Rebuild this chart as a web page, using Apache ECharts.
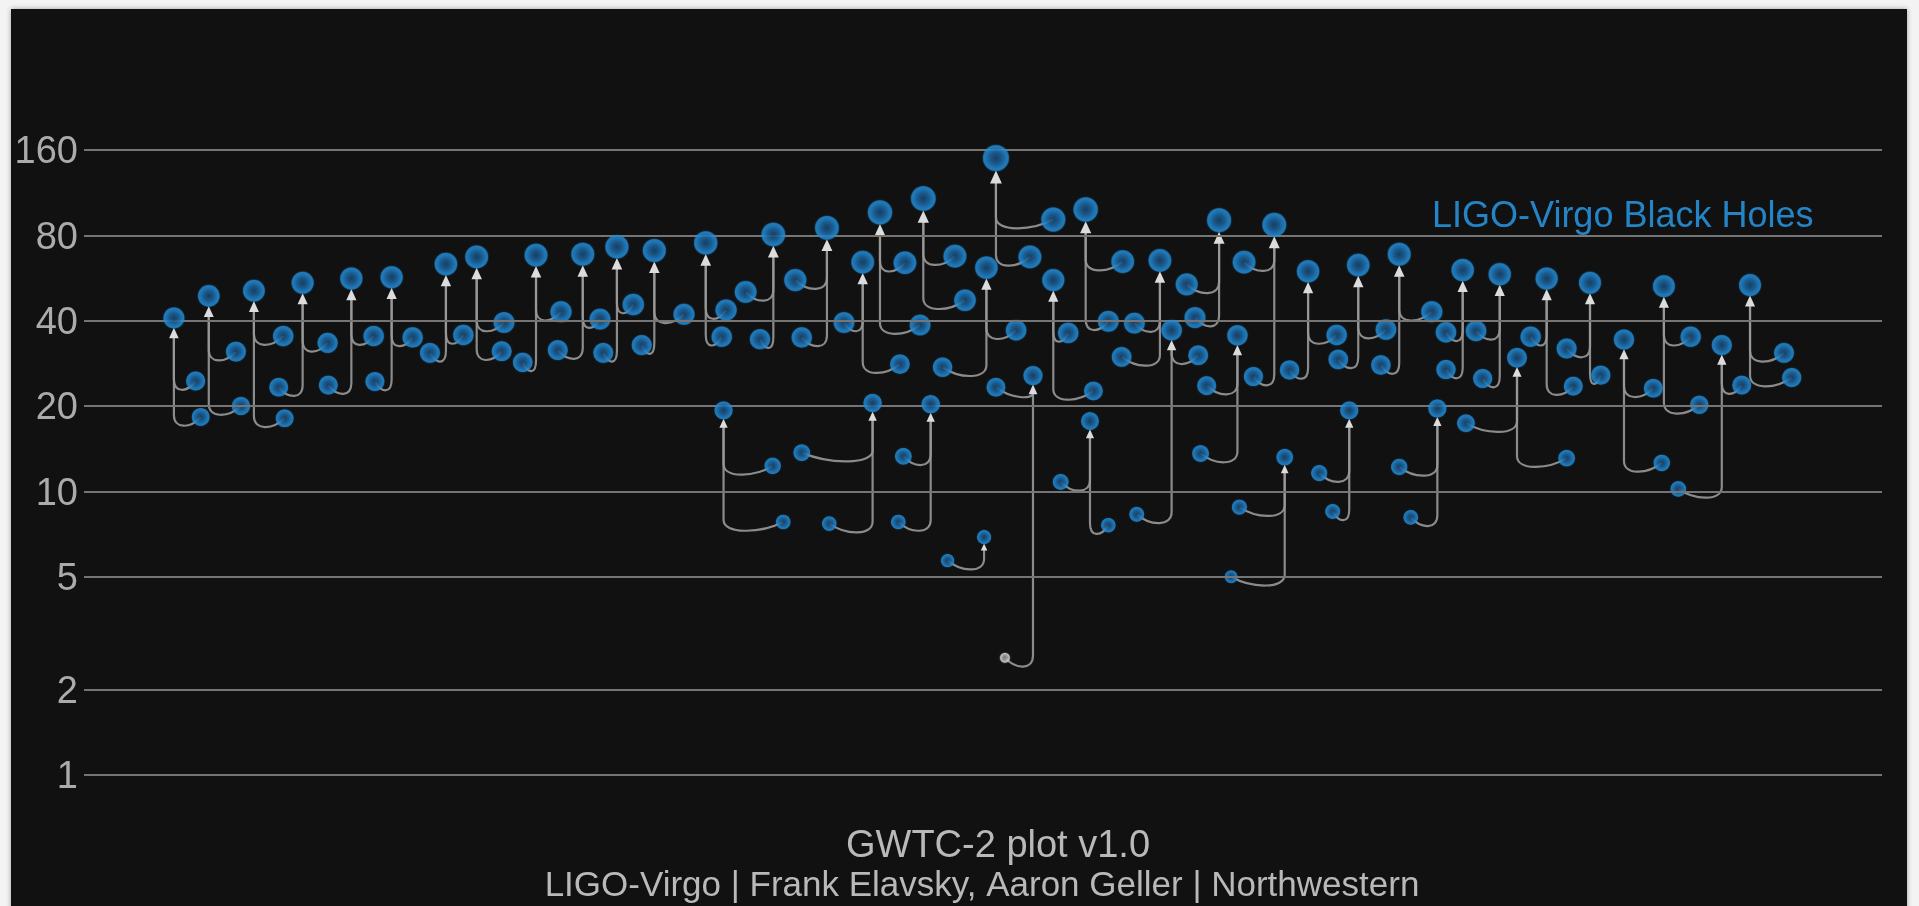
<!DOCTYPE html>
<html>
<head>
<meta charset="utf-8">
<title>GWTC-2 plot v1.0</title>
<script src="https://cdn.jsdelivr.net/npm/echarts@6/dist/echarts.min.js"></script>
<style>
  html, body { margin: 0; padding: 0; width: 100%; height: 100%; background: #f3f3f3; overflow: hidden; }
  #panel { position: absolute; left: 11px; top: 9px; width: 1896px; height: 910px; background: #111111;
           box-shadow: 0 0 5px rgba(0,0,0,0.35); }
  #chart { position: absolute; left: 0; top: 0; width: 1919px; height: 906px; }
</style>
</head>
<body>
<div id="panel"></div>
<div id="chart"></div>
<script>
// Mass axis ticks (solar masses)
const tickValues = [1, 2, 5, 10, 20, 40, 80, 160];

// Each merger: remnant (final black hole) and its two progenitors.
// X is a layout position (0-100) across the panel, masses in solar masses.
const remnantX = [5.0, 6.94, 9.45, 12.16, 14.87, 17.11, 20.13, 21.84, 25.14, 27.74, 29.64, 31.72, 34.58, 38.34, 41.32, 44.27, 43.31, 46.68, 50.19, 52.78, 50.06, 35.57, 43.86, 47.09, 50.72, 55.71, 53.91, 55.95, 59.84, 60.49, 63.13, 64.15, 66.20, 68.08, 66.78, 70.87, 73.15, 70.37, 75.27, 76.68, 78.74, 81.35, 79.70, 83.76, 85.65, 87.87, 91.09, 92.66];
const remnantMass = [40.9, 48.9, 51.0, 54.4, 56.3, 56.9, 63.3, 67.1, 68.1, 68.6, 72.8, 70.7, 75.2, 80.5, 85.0, 96.3, 64.3, 107.8, 61.5, 25.6, 6.9, 19.3, 20.5, 20.3, 149.7, 98.6, 55.6, 17.7, 65.2, 37.0, 90.4, 35.5, 87.1, 59.7, 13.2, 62.8, 68.6, 19.3, 19.6, 60.3, 58.3, 56.3, 29.6, 54.4, 34.3, 52.9, 32.8, 53.4];
const primaryX = [6.21, 8.45, 11.08, 13.55, 16.11, 18.28, 21.10, 23.36, 26.53, 28.70, 30.55, 33.37, 35.71, 36.80, 39.56, 45.66, 42.27, 48.44, 51.84, 50.72, 48.03, 38.30, 39.92, 45.57, 53.91, 57.77, 54.74, 54.32, 58.42, 61.97, 61.33, 62.44, 64.52, 69.67, 64.26, 72.41, 74.96, 68.70, 73.15, 75.75, 77.42, 80.46, 76.86, 82.46, 87.28, 89.36, 92.20, 94.55];
const primaryMass = [24.5, 31.1, 35.3, 33.4, 35.3, 34.9, 35.6, 39.4, 43.0, 40.5, 45.6, 42.1, 43.6, 50.5, 55.6, 64.0, 39.4, 67.5, 37.0, 23.3, 5.7, 12.3, 13.7, 13.3, 90.9, 64.6, 36.2, 10.8, 39.2, 30.2, 53.7, 23.6, 64.3, 35.6, 8.8, 37.2, 43.0, 11.6, 12.2, 36.4, 36.8, 35.1, 17.4, 31.9, 23.1, 35.1, 23.7, 30.8];
const secondaryX = [6.49, 8.73, 11.16, 10.83, 13.59, 16.18, 19.24, 23.23, 24.40, 26.35, 28.88, 31.02, 35.47, 37.60, 39.92, 46.50, 45.38, 49.00, 47.75, 51.22, null, 38.89, 41.45, 45.29, 52.61, 56.97, 56.14, 56.97, 57.71, 58.55, 61.79, 62.10, 65.04, 67.05, 63.80, 69.76, 72.13, 69.45, 73.79, 75.75, 77.79, 82.83, 82.46, 84.36, 87.75, 89.84, 88.67, 94.98];
const secondaryMass = [18.3, 20.0, 18.1, 23.3, 23.7, 24.4, 30.8, 31.2, 28.5, 31.5, 30.8, 32.8, 35.1, 34.4, 34.9, 38.6, 28.1, 47.2, 27.4, 2.59, null, 7.8, 7.7, 7.8, 67.1, 39.8, 22.6, 7.6, 29.8, 8.3, 41.0, 13.6, 25.4, 26.8, 5.0, 29.2, 27.9, 8.5, 8.1, 26.9, 25.0, 23.5, 13.1, 25.7, 12.6, 20.2, 10.2, 25.2];

const chartTitle = 'LIGO-Virgo Black Holes';
const footerLines = ['GWTC-2 plot v1.0', 'LIGO-Virgo | Frank Elavsky, Aaron Geller | Northwestern'];

const FONT = '"Liberation Sans", Arial, Helvetica, sans-serif';
// Objects lighter than this are drawn grey instead of blue
const GAP_LIMIT = 3;

// Symbol diameter grows with the log of the mass
function dotSize(m) { return 7 + 4 * Math.log(m); }

const remnantData = remnantX.map((x, i) => [x, remnantMass[i]]);
const componentData = [];
const linkData = [];
remnantX.forEach((rx, i) => {
  [[primaryX[i], primaryMass[i]], [secondaryX[i], secondaryMass[i]]].forEach(([cx, cm]) => {
    if (cx == null) return;
    componentData.push([cx, cm]);
    linkData.push([cx, cm, rx, remnantMass[i]]);
  });
});

const blueDot = new echarts.graphic.RadialGradient(0.5, 0.5, 0.5, [
  { offset: 0, color: '#173f63' },
  { offset: 0.45, color: '#1b629c' },
  { offset: 0.75, color: '#2084cc' },
  { offset: 0.9, color: '#238bd4' },
  { offset: 1, color: 'rgba(35,139,212,0.35)' }
]);
const greyDot = new echarts.graphic.RadialGradient(0.5, 0.5, 0.5, [
  { offset: 0, color: '#777777' },
  { offset: 0.45, color: '#a8a8a8' },
  { offset: 0.8, color: '#dcdcdc' },
  { offset: 1, color: 'rgba(215,215,215,0.4)' }
]);

function dotItem(p) {
  const item = { value: p, symbolSize: dotSize(p[1]) };
  if (p[1] < GAP_LIMIT) item.itemStyle = { color: greyDot, shadowColor: 'rgba(200,200,200,0.4)' };
  return item;
}

const chart = echarts.init(document.getElementById('chart'), null, { renderer: 'canvas' });

chart.setOption({
  backgroundColor: 'transparent',
  animation: false,
  grid: { left: 84, right: 37, top: 92, bottom: 131 },
  xAxis: { type: 'value', min: 0, max: 100, show: false },
  yAxis: { type: 'log', logBase: 2, min: 1, max: 256, show: false },
  series: [
    {
      // horizontal mass grid with its labels
      type: 'scatter',
      data: [],
      z: 1,
      silent: true,
      markLine: {
        silent: true,
        symbol: ['none', 'none'],
        animation: false,
        lineStyle: { color: '#757575', width: 2, type: 'solid' },
        label: {
          show: true,
          position: 'start',
          distance: 6,
          offset: [0, 3],
          formatter: p => String(p.value),
          color: '#ababab',
          fontSize: 38,
          fontFamily: FONT
        },
        emphasis: { disabled: true },
        data: tickValues.map(v => ({ yAxis: v }))
      }
    },
    {
      // progenitor -> remnant paths
      type: 'custom',
      z: 2,
      silent: true,
      data: linkData,
      renderItem(params, api) {
        const c = api.coord([api.value(0), api.value(1)]);
        const r = api.coord([api.value(2), api.value(3)]);
        const d = dotSize(api.value(3));
        const base = r[1] + d / 2 + d * 0.45 - 1;
        const dx = r[0] - c[0];
        const dip = 12;
        const turnY = Math.max(c[1] - 2, base);
        const path = 'M' + c[0] + ',' + c[1] +
          ' C' + (c[0] + dx * 0.4) + ',' + (c[1] + dip) + ' ' + r[0] + ',' + (c[1] + dip) + ' ' + r[0] + ',' + turnY +
          ' L' + r[0] + ',' + base;
        return {
          type: 'path',
          shape: { pathData: path },
          style: { fill: 'none', stroke: '#999999', lineWidth: 2.2, opacity: 0.9 }
        };
      }
    },
    {
      // arrow heads under each remnant
      type: 'custom',
      z: 3,
      silent: true,
      data: remnantData,
      renderItem(params, api) {
        const r = api.coord([api.value(0), api.value(1)]);
        const d = dotSize(api.value(1));
        const h = d * 0.48, w = d * 0.44;
        const top = r[1] + d / 2 - 1;
        return {
          type: 'polygon',
          shape: { points: [[r[0], top], [r[0] - w / 2, top + h], [r[0] + w / 2, top + h]] },
          style: { fill: '#dcdcdc' }
        };
      }
    },
    {
      type: 'scatter',
      z: 4,
      silent: true,
      symbol: 'circle',
      itemStyle: { color: blueDot, shadowBlur: 3, shadowColor: 'rgba(35,139,212,0.45)' },
      data: componentData.map(dotItem)
    },
    {
      type: 'scatter',
      z: 5,
      silent: true,
      symbol: 'circle',
      itemStyle: { color: blueDot, shadowBlur: 3, shadowColor: 'rgba(35,139,212,0.45)' },
      data: remnantData.map(dotItem)
    }
  ],
  graphic: [
    {
      type: 'text', x: 1432, y: 199, silent: true,
      style: { text: chartTitle, fill: '#2484c6', fontSize: 36, fontFamily: FONT }
    },
    {
      type: 'text', x: 998, y: 828, silent: true,
      style: { text: footerLines[0], fill: '#b9b9b9', fontSize: 38, fontFamily: FONT, align: 'center' }
    },
    {
      type: 'text', x: 982, y: 869, silent: true,
      style: { text: footerLines[1], fill: '#b9b9b9', fontSize: 35, fontFamily: FONT, align: 'center' }
    }
  ]
});
</script>
</body>
</html>
